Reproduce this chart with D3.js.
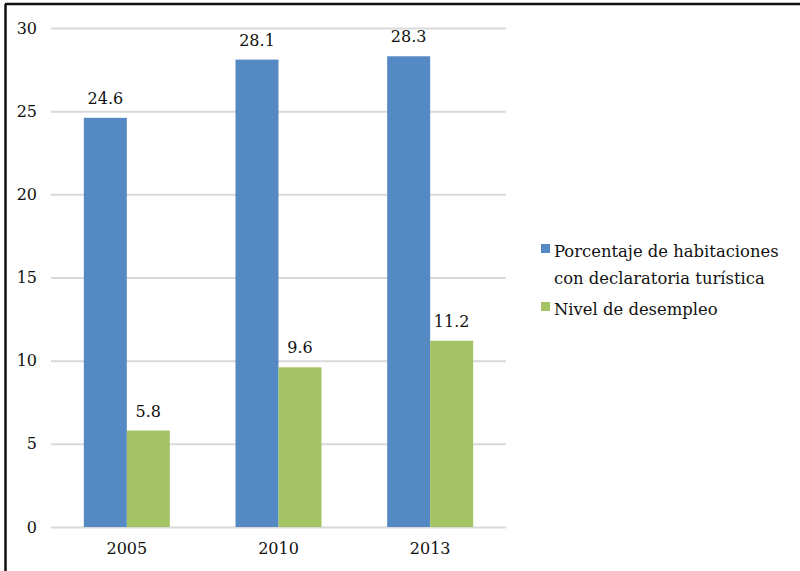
<!DOCTYPE html>
<html><head><meta charset="utf-8">
<script src="https://cdn.jsdelivr.net/npm/d3@7"></script>
<style>body{margin:0;background:#fff}svg{display:block}text{font-family:"DejaVu Serif","Liberation Serif",serif;fill:#111}</style>
</head><body>
<svg id="c" width="800" height="571"></svg>
<script>
const categories = ["2005", "2010", "2013"];
const seriesNames = ["Porcentaje de habitaciones con declaratoria turística", "Nivel de desempleo"];
const habitaciones = [24.6, 28.1, 28.3];
const desempleo = [5.8, 9.6, 11.2];
const yTicks = [0, 5, 10, 15, 20, 25, 30];
const colors = ["#5589c4", "#a4c364"];

(function(){
const svg = d3.select("#c");
// frame (top and left only)
svg.append("line").attr("x1",5).attr("x2",800).attr("y1",4).attr("y2",4).attr("stroke","#111").attr("stroke-width",2.5);
svg.append("line").attr("x1",5.5).attr("x2",5.5).attr("y1",4).attr("y2",571).attr("stroke","#111").attr("stroke-width",2.5);

const mL = 51, mR = 506, mT = 28, mB = 527;
const x = d3.scaleBand().domain(categories).range([mL, mR]);
const y = d3.scaleLinear().domain([0, 30]).range([mB, mT]);
const barW = 43;

const yAxis = d3.axisLeft(y).tickValues(yTicks).tickSize(-(mR-mL)).tickPadding(14);
const gy = svg.append("g").attr("transform",`translate(${mL},0)`).call(yAxis);
gy.select(".domain").remove();
gy.selectAll(".tick line").attr("stroke","#d9d9d9").attr("stroke-width",2);
gy.selectAll(".tick text").attr("font-size",16).attr("x",-14);

const xAxis = d3.axisBottom(x).tickSize(0).tickPadding(16);
const gx = svg.append("g").attr("transform",`translate(0,${mB})`).call(xAxis);
gx.select(".domain").remove();
gx.selectAll(".tick text").attr("font-size",16);

const series = [habitaciones, desempleo];
series.forEach((vals, si) => {
  const g = svg.append("g");
  g.selectAll("rect").data(vals).enter().append("rect")
    .attr("x",(d,i)=>x(categories[i]) + x.bandwidth()/2 - barW + si*barW)
    .attr("width",barW)
    .attr("y",d=>y(d))
    .attr("height",d=>mB - y(d))
    .attr("fill",colors[si]);
  g.selectAll("text").data(vals).enter().append("text")
    .attr("x",(d,i)=>x(categories[i]) + x.bandwidth()/2 - barW/2 + si*barW)
    .attr("y",d=>y(d) - 14)
    .attr("text-anchor","middle")
    .attr("font-size",16)
    .text(d=>d.toFixed(1));
});

// legend
const lg = svg.append("g");
const lx = 541;
lg.append("rect").attr("x",lx).attr("y",244).attr("width",9).attr("height",9).attr("fill",colors[0]);
lg.append("text").attr("x",lx+13).attr("y",257).attr("font-size",16.4).text("Porcentaje de habitaciones");
lg.append("text").attr("x",lx+13).attr("y",284).attr("font-size",16.4).text("con declaratoria turística");
lg.append("rect").attr("x",lx).attr("y",302).attr("width",9).attr("height",9).attr("fill",colors[1]);
lg.append("text").attr("x",lx+13).attr("y",315).attr("font-size",16.4).text("Nivel de desempleo");
})();
</script>
</body></html>
